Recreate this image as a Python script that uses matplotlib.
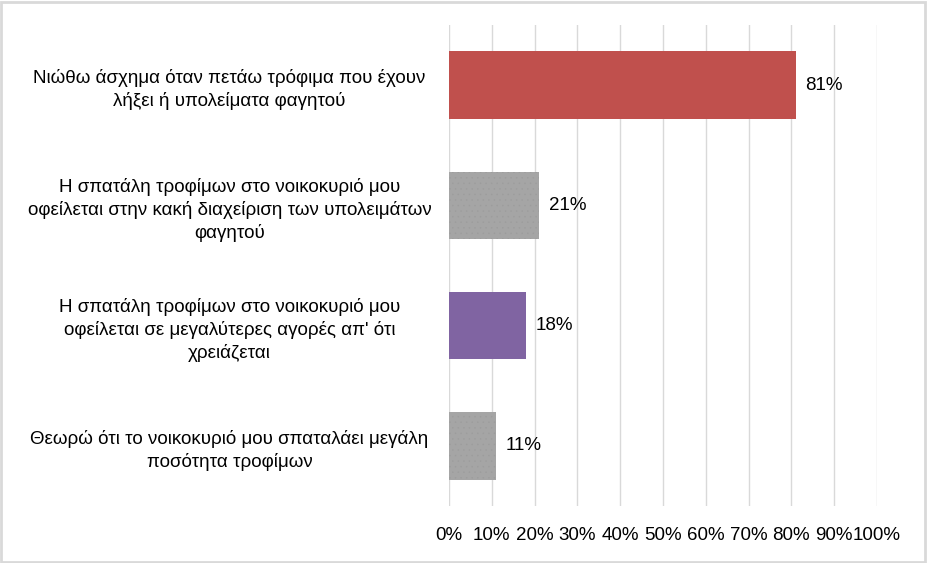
import matplotlib
matplotlib.use("Agg")
import matplotlib.pyplot as plt
from matplotlib.patches import Rectangle

categories = [
    "Νιώθω άσχημα όταν πετάω τρόφιμα που έχουν\nλήξει ή υπολείματα φαγητού",
    "Η σπατάλη τροφίμων στο νοικοκυριό μου\nοφείλεται στην κακή διαχείριση των υπολειμάτων\nφαγητού",
    "Η σπατάλη τροφίμων στο νοικοκυριό μου\nοφείλεται σε μεγαλύτερες αγορές απ' ότι\nχρειάζεται",
    "Θεωρώ ότι το νοικοκυριό μου σπαταλάει μεγάλη\nποσότητα τροφίμων",
]
values = [81, 21, 18, 11]
colors = ["#C0504D", "#A5A5A5", "#8064A2", "#A5A5A5"]
hatches = ["", "...", "", "..."]
xticks = list(range(0, 101, 10))
xticklabels = [f"{t}%" for t in xticks]

plt.rcParams["font.family"] = ["Liberation Sans", "DejaVu Sans"]
plt.rcParams["hatch.linewidth"] = 0.3

fig = plt.figure(figsize=(9.27, 5.63), dpi=100)
ax = fig.add_axes([449/927, 1-506/563, (877-449)/927, (506-25)/563])

ypos = list(range(len(categories)))
for i, (v, c, h) in enumerate(zip(values, colors, hatches)):
    ax.barh(i, v, height=0.56, color=c, hatch=h, edgecolor="#9C9C9C" if h else c,
            linewidth=0, zorder=3)
    ax.text(v + 2.3, i, f"{v}%", va="center", ha="left", fontsize=13.5, color="#000000")

ax.set_ylim(len(categories) - 0.5, -0.5)
ax.set_xlim(0, 100)
ax.set_yticks(ypos)
ax.set_yticklabels(categories, fontsize=13.5, ha="center", linespacing=1.35)
ax.tick_params(axis="y", length=0, pad=158)
ax.set_xticks(xticks)
ax.set_xticklabels(xticklabels, fontsize=13.5)
ax.tick_params(axis="x", length=0, pad=15)
ax.grid(axis="x", color="#D9D9D9", linewidth=1, zorder=0)
for s in ax.spines.values():
    s.set_visible(False)

fig.patches.append(Rectangle((0.001, 0.001), 0.997, 0.996, transform=fig.transFigure,
                             fill=False, edgecolor="#D9D9D9", linewidth=2))
fig.savefig("out.png", dpi=100)
